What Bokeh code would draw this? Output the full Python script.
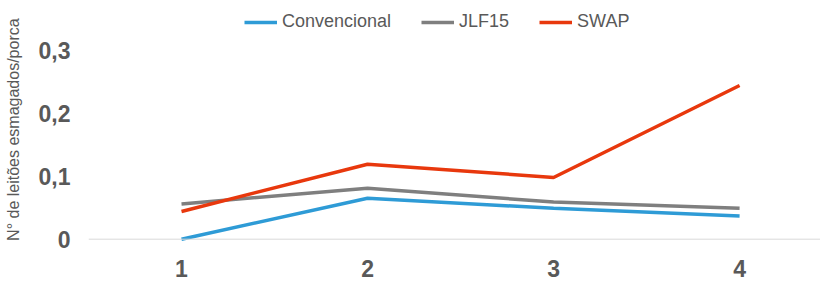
from bokeh.plotting import figure
from bokeh.models import Range1d, FixedTicker, Span, Legend, LegendItem
from bokeh.embed import file_html
from bokeh.resources import INLINE

# ---- data ----
weeks = [1, 2, 3, 4]
week_labels = ["1", "2", "3", "4"]
convencional = [0.0, 0.065, 0.049, 0.037]
jlf15 = [0.056, 0.081, 0.059, 0.049]
swap = [0.044, 0.119, 0.098, 0.244]
y_ticks = [0, 0.1, 0.2, 0.3]
y_tick_labels = ["0", "0,1", "0,2", "0,3"]
series_names = ["Convencional", "JLF15", "SWAP"]
series_colors = ["#2e9bd6", "#7f7f7f", "#e8380d"]
y_title = "N° de leitões esmagados/porca"

LABEL_FONT = "'Liberation Sans', Arial, sans-serif"
TICK_FONT = "'Liberation Sans Narrow', 'Arial Narrow', 'Liberation Sans', sans-serif"
TEXT_COLOR = "#595959"

p = figure(width=820, height=293, output_backend="svg", toolbar_location=None,
           x_range=Range1d(0.5, 4.435), y_range=Range1d(-0.01, 0.3789),
           min_border_left=88, min_border_right=0, min_border_top=0, min_border_bottom=48)
p.outline_line_color = None
p.grid.visible = False
p.background_fill_color = "white"
p.border_fill_color = "white"

renderers = []
for vals, col in zip([convencional, jlf15, swap], series_colors):
    r = p.line(weeks, vals, line_color=col, line_width=3.5)
    renderers.append(r)

p.add_layout(Span(location=0, dimension="width", line_color="#d9d9d9", line_width=1), "center")

# x axis
p.xaxis.ticker = FixedTicker(ticks=weeks)
p.xaxis.major_label_overrides = {w: l for w, l in zip(weeks, week_labels)}
p.xaxis.axis_line_color = None
p.xaxis.major_tick_line_color = None
p.xaxis.minor_tick_line_color = None
p.xaxis.major_tick_out = 0
p.xaxis.major_tick_in = 0
p.xaxis.major_label_text_font = TICK_FONT
p.xaxis.major_label_text_font_style = "bold"
p.xaxis.major_label_text_font_size = "23px"
p.xaxis.major_label_text_color = TEXT_COLOR
p.xaxis.major_label_standoff = 14

# y axis
p.yaxis.ticker = FixedTicker(ticks=y_ticks)
p.yaxis.major_label_overrides = {t: l for t, l in zip(y_ticks, y_tick_labels)}
p.yaxis.axis_line_color = None
p.yaxis.major_tick_line_color = None
p.yaxis.minor_tick_line_color = None
p.yaxis.major_tick_out = 0
p.yaxis.major_tick_in = 0
p.yaxis.major_label_text_font = TICK_FONT
p.yaxis.major_label_text_font_style = "bold"
p.yaxis.major_label_text_font_size = "23px"
p.yaxis.major_label_text_color = TEXT_COLOR
p.yaxis.major_label_standoff = 18
p.yaxis.axis_label = y_title + "\u00a0" * 3
p.yaxis.axis_label_text_font = LABEL_FONT
p.yaxis.axis_label_text_font_style = "normal"
p.yaxis.axis_label_text_font_size = "16px"
p.yaxis.axis_label_text_color = TEXT_COLOR
p.yaxis.axis_label_standoff = 14

legend = Legend(items=[LegendItem(label=n, renderers=[r]) for n, r in zip(series_names, renderers)],
                orientation="horizontal", location=(156, 213),
                label_text_font=LABEL_FONT, label_text_font_size="18px",
                label_text_color=TEXT_COLOR, glyph_width=33, glyph_height=20,
                label_standoff=5, spacing=30, padding=4, margin=0,
                border_line_color=None, background_fill_alpha=0)
p.add_layout(legend, "center")

open("out.html", "w").write(file_html(p, INLINE))
